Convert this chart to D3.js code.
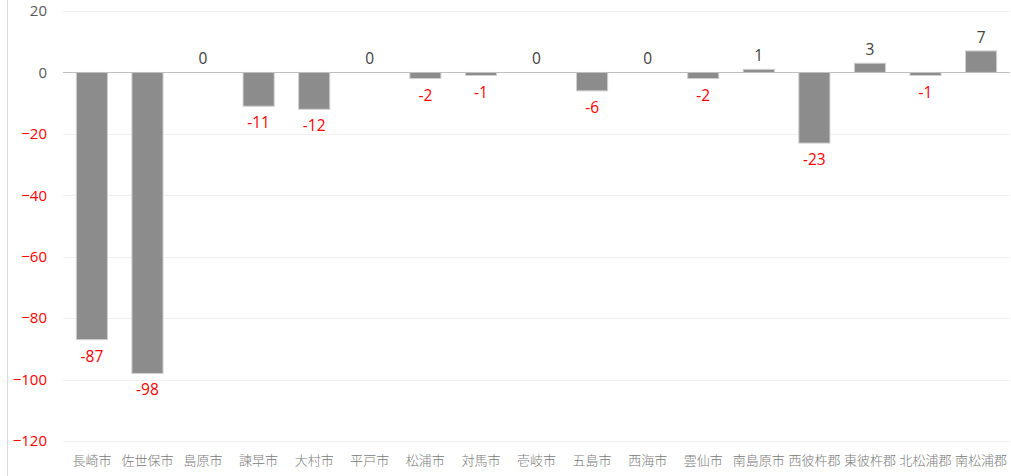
<!DOCTYPE html>
<html><head><meta charset="utf-8">
<script src="https://cdn.jsdelivr.net/npm/d3@7"></script>
<style>body{margin:0;background:#fff;} svg{display:block;}</style>
</head><body>
<svg id="c" width="1011" height="476"></svg>
<script>
const categories = ["長崎市","佐世保市","島原市","諫早市","大村市","平戸市","松浦市","対馬市","壱岐市","五島市","西海市","雲仙市","南島原市","西彼杵郡","東彼杵郡","北松浦郡","南松浦郡"];
const values = [-87,-98,0,-11,-12,0,-2,-1,0,-6,0,-2,1,-23,3,-1,7];
const yTicks = [20,0,-20,-40,-60,-80,-100,-120];

const svg = d3.select("#c");
const plotLeft = 63, plotRight = 1010, plotTop = 11, plotBottom = 441;
const x = d3.scaleBand().domain(categories).range([plotLeft, plotRight]).paddingInner(0.44).paddingOuter(0.24);
const y = d3.scaleLinear().domain([-120, 20]).range([plotBottom, plotTop]);
const font = "'Noto Sans CJK JP', 'Open Sans', sans-serif";

// chart border line at left
svg.append("line").attr("x1",7.5).attr("x2",7.5).attr("y1",0).attr("y2",476).attr("stroke","#d9d9d9").attr("stroke-width",1);

// gridlines
svg.append("g").selectAll("line").data(yTicks.filter(d=>d!==0)).join("line")
  .attr("x1", plotLeft).attr("x2", plotRight)
  .attr("y1", d=>Math.round(y(d))+0.5).attr("y2", d=>Math.round(y(d))+0.5)
  .attr("stroke", "#efefef").attr("stroke-width", 1);

// y axis labels
const yAxis = d3.axisLeft(y).tickValues(yTicks).tickSize(0).tickPadding(0).tickFormat(d3.format("d"));
const ga = svg.append("g").attr("transform", `translate(47,0)`).call(yAxis);
ga.select(".domain").remove();
ga.selectAll("text").attr("font-family", "'Open Sans', sans-serif").attr("font-size", 15)
  .attr("fill", d => d < 0 ? "#ff0000" : "#595959");

// bars
svg.append("g").selectAll("rect").data(values).join("rect")
  .attr("x", (d,i)=>x(categories[i]))
  .attr("width", x.bandwidth())
  .attr("y", d=>y(Math.max(0,d)))
  .attr("height", d=>Math.abs(y(d)-y(0)))
  .attr("fill", "#8c8c8c").attr("stroke", "#d0d0d0").attr("stroke-width", 1);

// zero line
svg.append("line").attr("x1", plotLeft).attr("x2", plotRight)
  .attr("y1", Math.round(y(0))+0.5).attr("y2", Math.round(y(0))+0.5)
  .attr("stroke", "#bfbfbf").attr("stroke-width", 1);

// data labels
svg.append("g").selectAll("text").data(values).join("text")
  .attr("x", (d,i)=>x(categories[i]) + x.bandwidth()/2)
  .attr("y", d => d < 0 ? y(d) + 22 : y(d) - 8)
  .attr("text-anchor", "middle")
  .attr("font-family", "'Open Sans', sans-serif").attr("font-size", 15.5)
  .attr("fill", d => d < 0 ? "#ff0000" : "#404040")
  .text(d=>d);

// x axis labels
const xAxis = d3.axisBottom(x).tickSize(0).tickPadding(0);
const gx = svg.append("g").attr("transform", `translate(0,${plotBottom+24})`).call(xAxis);
gx.select(".domain").remove();
gx.selectAll("text").attr("font-family", font).attr("font-size", 13).attr("font-weight", 300).attr("fill", "#7a7a7a").attr("dy","0");
</script>
</body></html>
